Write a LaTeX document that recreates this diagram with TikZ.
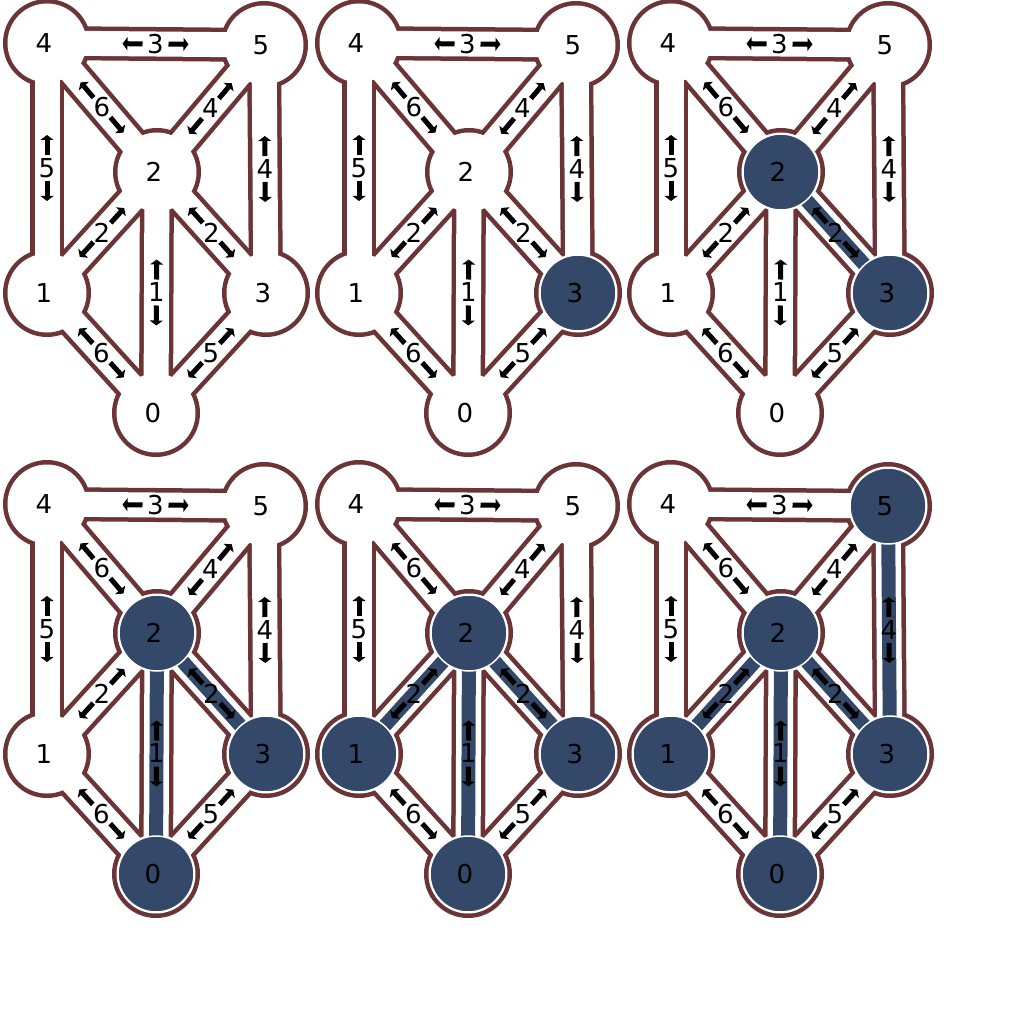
\documentclass[tikz,border=0pt]{standalone}
\usepackage{fontspec}
\setmainfont{DejaVu Sans}
\usetikzlibrary{arrows.meta,calc}

\definecolor{rimbrown}{HTML}{6B3538}
\definecolor{treeblue}{HTML}{34486A}

\tikzset{
  rim/.style={draw=rimbrown, line width=34pt},
  body/.style={draw=white, line width=25pt},
  treeedge/.style={draw=treeblue, line width=14pt},
  treenode/.style={fill=treeblue, draw=white, line width=1.5pt},
  weight/.style={line width=5pt, -{Triangle[width=13pt,length=5pt]}},
  vlabel/.style={font=\fontsize{26}{26}\selectfont, inner sep=0pt},
}

% outlined graph of one panel, vertices named p<panel>v<vertex>
\newcommand{\graphbase}[3]{%
  \foreach \v/\x/\y in {0/156/413, 1/47/293, 2/157/172, 3/266/293, 4/47/43, 5/264/45}
    \coordinate (p#1v\v) at (#2+\x, #3+\y);
  \foreach \a/\b in {4/5, 4/2, 5/2, 4/1, 5/3, 2/1, 2/3, 2/0, 1/0, 3/0}
    \draw[rim] (p#1v\a) -- (p#1v\b);
  \foreach \v in {0,...,5}
    \fill[rimbrown] (p#1v\v) circle (44pt);
  \foreach \a/\b in {4/5, 4/2, 5/2, 4/1, 5/3, 2/1, 2/3, 2/0, 1/0, 3/0}
    \draw[body] (p#1v\a) -- (p#1v\b);
  \foreach \v in {0,...,5}
    \fill[white] (p#1v\v) circle (39.5pt);
}

% weights and vertex labels on top
\newcommand{\graphtop}[1]{%
  \foreach \a/\b/\w in {4/5/3, 4/2/6, 5/2/4, 4/1/5, 5/3/4, 2/1/2, 2/3/2, 2/0/1, 1/0/6, 3/0/5} {
    \coordinate (m) at ($(p#1v\a)!0.5!(p#1v\b)$);
    \draw[weight] ($(m)!13pt!(p#1v\a)$) -- ($(m)!33pt!(p#1v\a)$);
    \draw[weight] ($(m)!13pt!(p#1v\b)$) -- ($(m)!33pt!(p#1v\b)$);
    \node[vlabel] (p#1w\a\b) at (m) {\w};
  }
  \foreach \v in {0,...,5}
    \node[vlabel, xshift=-3pt] (p#1n\v) at (p#1v\v) {\v};
}

\begin{document}
\begin{tikzpicture}[x=1pt, y=-1pt]
  \fill[white] (0,0) rectangle (1024,1024);
  \useasboundingbox (0,0) rectangle (1024,1024);

  % step 1
  \graphbase{1}{0}{0}
  \graphtop{1}

  % step 2
  \graphbase{2}{312}{0}
  \path[treenode] (p2v3) circle (38pt);
  \graphtop{2}

  % step 3
  \graphbase{3}{624}{0}
  \draw[treeedge] (p3v2) -- (p3v3);
  \foreach \v in {2,3}
    \path[treenode] (p3v\v) circle (38pt);
  \graphtop{3}

  % step 4
  \graphbase{4}{0}{461}
  \foreach \a/\b in {2/3, 2/0}
    \draw[treeedge] (p4v\a) -- (p4v\b);
  \foreach \v in {0,2,3}
    \path[treenode] (p4v\v) circle (38pt);
  \graphtop{4}

  % step 5
  \graphbase{5}{312}{461}
  \foreach \a/\b in {2/3, 2/0, 2/1}
    \draw[treeedge] (p5v\a) -- (p5v\b);
  \foreach \v in {0,1,2,3}
    \path[treenode] (p5v\v) circle (38pt);
  \graphtop{5}

  % step 6
  \graphbase{6}{624}{461}
  \foreach \a/\b in {2/3, 2/0, 2/1, 3/5}
    \draw[treeedge] (p6v\a) -- (p6v\b);
  \foreach \v in {0,1,2,3,5}
    \path[treenode] (p6v\v) circle (38pt);
  \graphtop{6}
\end{tikzpicture}
\end{document}
